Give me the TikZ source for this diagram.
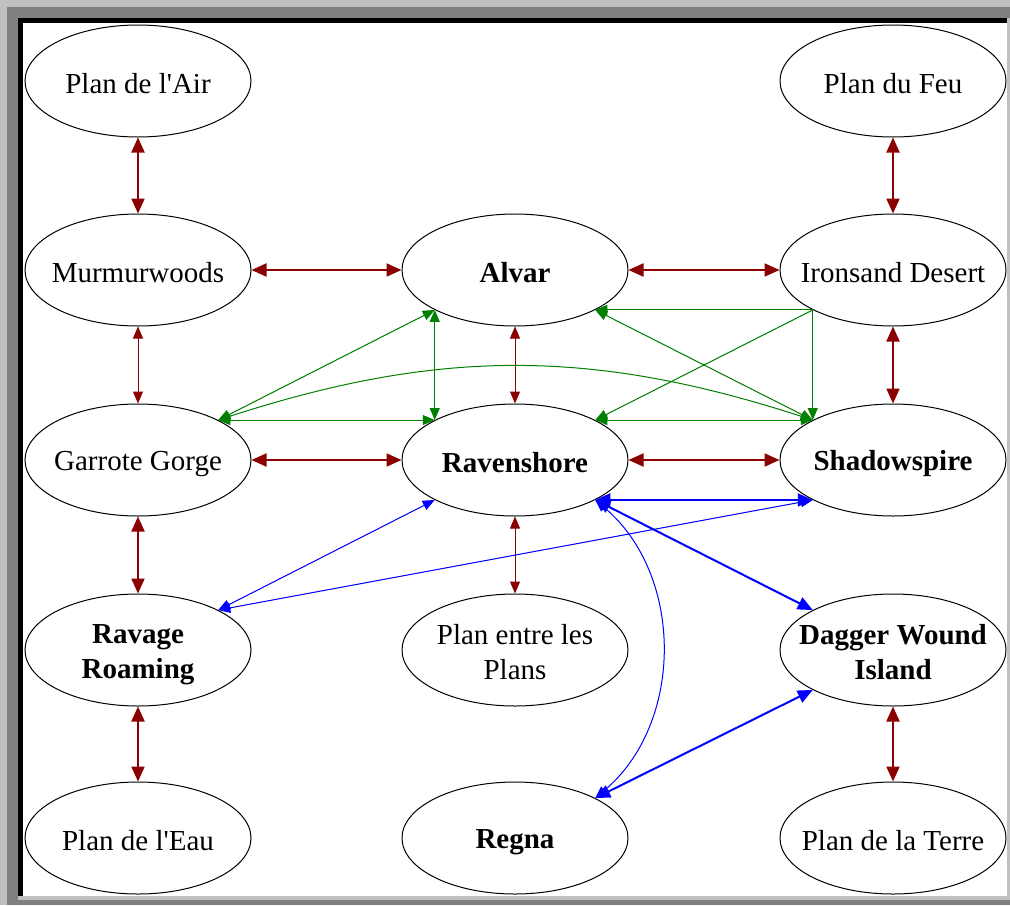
\documentclass[tikz,border=0pt]{standalone}
\usepackage{fontspec}
\setmainfont{Liberation Serif}[Ligatures=TeXOff]
\usetikzlibrary{arrows.meta,shapes.geometric}
\definecolor{dred}{HTML}{8B0000}
\definecolor{dgreen}{HTML}{008000}
\definecolor{bblue}{HTML}{0000FF}
\definecolor{lgray}{HTML}{C0C0C0}
\definecolor{mgray}{HTML}{808080}
\newcommand\lstr{\rule[-2pt]{0pt}{16pt}}
\begin{document}
\begin{tikzpicture}[x=0.5pt,y=-0.5pt,
  ell/.style={ellipse,draw,line width=0.5pt,minimum width=113pt,minimum height=56pt,inner sep=0pt},
  lbl/.style={font=\fontsize{14.5}{17.5}\selectfont,align=center,inner sep=0pt},
  blbl/.style={font=\fontsize{14.5}{17.5}\selectfont\bfseries,align=center,inner sep=0pt},
  wa/.style={line width=0.5pt},
  wb/.style={line width=1pt},
  tipa/.tip={Triangle[length=6pt,width=5pt]},
  tipb/.tip={Triangle[length=7.5pt,width=6.5pt]},
  bia/.style={wa,{tipa}-{tipa}},
  bib/.style={wb,{tipb}-{tipb}},
  onea/.style={wa,-{tipa}},
  rd/.style={draw=dred,fill=dred},
  gr/.style={draw=dgreen,fill=dgreen},
  bu/.style={draw=bblue,fill=bblue}
]
\useasboundingbox (0,0) rectangle (1010,905);
% frame
\fill[mgray] (0,0) rectangle (1010,905);
\fill[lgray] (0,0) rectangle (1010,7);
\fill[lgray] (0,0) rectangle (7,905);
\fill[lgray] (18,18) rectangle (1010,900);
\fill[black] (18,18) rectangle (1007,23);
\fill[black] (18,18) rectangle (23,896);
\fill[white] (23,23) rectangle (1007,896);

% nodes
\node[ell] (planair) at (138,81) {};
\node[ell] (planfeu) at (893,81) {};
\node[ell] (murmur) at (138,270) {};
\node[ell] (alvar) at (515,270) {};
\node[ell] (iron) at (893,270) {};
\node[ell] (garrote) at (138,460) {};
\node[ell] (raven) at (515,460) {};
\node[ell] (shadow) at (893,460) {};
\node[ell] (ravage) at (138,650) {};
\node[ell] (entre) at (515,650) {};
\node[ell] (dagger) at (893,650) {};
\node[ell] (eau) at (138,838) {};
\node[ell] (regna) at (515,838) {};
\node[ell] (terre) at (893,838) {};

\node[lbl] (planair-t) at (planair) {\lstr Plan de l'Air};
\node[lbl] (planfeu-t) at (planfeu) {\lstr Plan du Feu};
\node[lbl] (murmur-t) at (murmur) {\lstr Murmurwoods};
\node[blbl] (alvar-t) at (alvar) {\lstr Alvar};
\node[lbl] (iron-t) at (iron) {\lstr Ironsand Desert};
\node[lbl] (garrote-t) at (garrote) {\lstr Garrote Gorge};
\node[blbl] (raven-t) at (raven) {\lstr Ravenshore};
\node[blbl] (shadow-t) at (shadow) {\lstr Shadowspire};
\node[blbl] (ravage-t) at (ravage) {\lstr Ravage\\\lstr Roaming};
\node[lbl] (entre-t) at (entre) {\lstr Plan entre les\\\lstr Plans};
\node[blbl] (dagger-t) at (dagger) {\lstr Dagger Wound\\\lstr Island};
\node[lbl] (eau-t) at (eau) {\lstr Plan de l'Eau};
\node[blbl] (regna-t) at (regna) {\lstr Regna};
\node[lbl] (terre-t) at (terre) {\lstr Plan de la Terre};

% dark red edges
\draw[bib,rd] (planair) -- (murmur);
\draw[bib,rd] (planfeu) -- (iron);
\draw[bib,rd] (murmur) -- (alvar);
\draw[bib,rd] (alvar) -- (iron);
\draw[bia,rd] (murmur) -- (garrote);
\draw[bia,rd] (alvar) -- (raven);
\draw[bib,rd] (iron) -- (shadow);
\draw[bib,rd] (garrote) -- (raven);
\draw[bib,rd] (raven) -- (shadow);
\draw[bib,rd] (garrote) -- (ravage);
\draw[bia,rd] (raven) -- (entre);
\draw[bib,rd] (ravage) -- (eau);
\draw[bib,rd] (dagger) -- (terre);

% green edges
\draw[bia,gr] (garrote.north east) -- (alvar.south west);
\draw[bia,gr] (alvar.south west) -- (raven.north west);
\draw[bia,gr] (garrote.north east) -- (raven.north west);
\draw[bia,gr,fill=none] (garrote.north east) to[bend left=18] (shadow.north west);
\draw[onea,gr] (iron.south west) -- (alvar.south east);
\draw[onea,gr] (iron.south west) -- (shadow.north west);
\draw[onea,gr] (iron.south west) -- (raven.north east);
\draw[bia,gr] (alvar.south east) -- (shadow.north west);
\draw[bia,gr] (raven.north east) -- (shadow.north west);

% blue edges
\draw[bia,bu] (raven.south west) -- (ravage.north east);
\draw[bia,bu] (shadow.south west) -- (ravage.north east);
\draw[bib,bu] (raven.south east) -- (shadow.south west);
\draw[bib,bu] (raven.south east) -- (dagger.north west);
\draw[bia,bu,fill=none] (raven.south east) to[bend left=50] (regna.north east);
\draw[bib,bu] (regna.north east) -- (dagger.south west);
\end{tikzpicture}
\end{document}
